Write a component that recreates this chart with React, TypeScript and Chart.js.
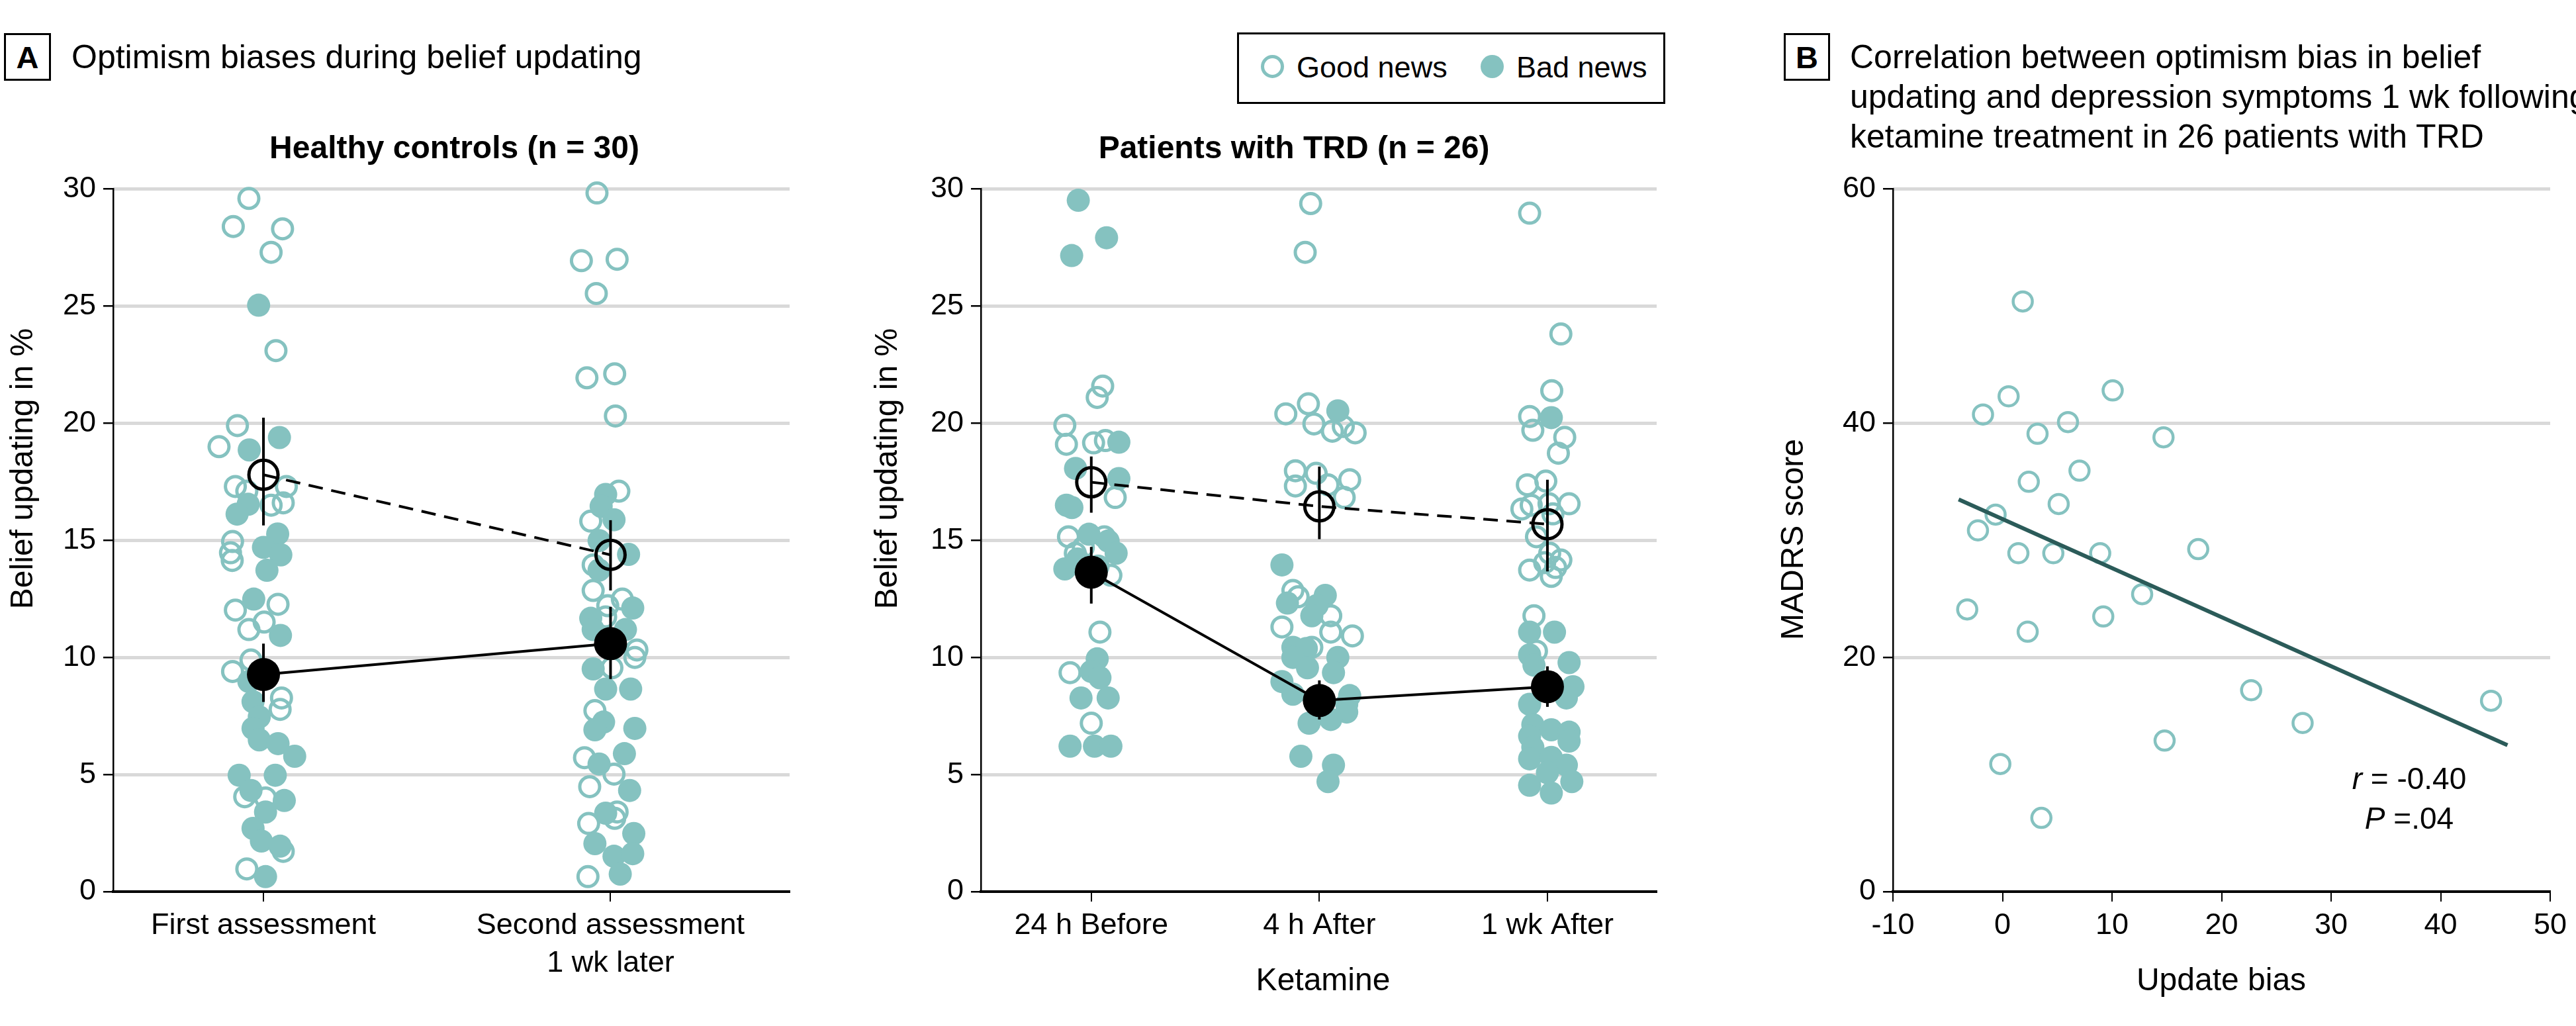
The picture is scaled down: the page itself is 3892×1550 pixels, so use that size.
import React, { useEffect, useRef } from "react";
import { Chart, registerables } from "chart.js";

Chart.register(...registerables);

const FONT = "'Liberation Sans', Arial, Helvetica, sans-serif";
const TEAL = "#85C2C0";
const GRID = "#d9d9d9";
const CLEAR = "rgba(0,0,0,0)";

// ---------- Panel A: Healthy controls ----------
const hcCategories = ["First assessment", ["Second assessment", "1 wk later"]];
const hcFirstGoodVals = [29.6, 28.4, 28.3, 27.3, 23.1, 19.9, 19.0, 17.3, 17.1, 17.3, 16.6, 16.5, 14.95, 14.47, 14.14, 12.02, 12.27, 11.51, 11.19, 9.89, 9.4, 8.27, 7.78, 4.05, 4.0, 1.72, 0.97];
const hcFirstGoodJit = [-0.042, -0.087, 0.055, 0.022, 0.036, -0.075, -0.128, -0.081, -0.048, 0.066, 0.057, 0.022, -0.089, -0.095, -0.09, -0.081, 0.042, 0.002, -0.042, -0.036, -0.089, 0.052, 0.048, -0.054, 0.006, 0.057, -0.048];
const hcFirstBadVals = [25.04, 19.39, 18.86, 16.54, 16.12, 15.27, 14.7, 14.38, 13.72, 12.49, 10.94, 8.97, 8.11, 7.46, 6.97, 6.48, 6.32, 5.78, 4.97, 4.97, 4.32, 3.89, 3.4, 2.7, 2.16, 1.94, 0.64];
const hcFirstBadJit = [-0.014, 0.046, -0.041, -0.044, -0.076, 0.041, 0.0, 0.05, 0.01, -0.028, 0.049, -0.042, -0.03, -0.012, -0.03, -0.012, 0.042, 0.09, -0.07, 0.034, -0.036, 0.06, 0.006, -0.03, -0.006, 0.048, 0.006];
const hcSecondGoodVals = [29.83, 26.94, 27.0, 25.54, 21.94, 22.11, 20.31, 17.1, 15.82, 13.95, 12.86, 12.49, 12.21, 11.73, 10.32, 10.0, 9.56, 7.73, 5.72, 5.02, 4.48, 3.4, 3.13, 2.91, 0.64];
const hcSecondGoodJit = [-0.039, -0.084, 0.019, -0.041, -0.068, 0.012, 0.014, 0.024, -0.057, -0.05, -0.05, 0.034, -0.008, -0.014, 0.076, 0.07, 0.004, -0.045, -0.075, 0.01, -0.06, 0.019, 0.012, -0.063, -0.065];
const hcSecondBadVals = [16.96, 16.45, 15.88, 14.99, 14.4, 13.73, 12.11, 11.67, 11.19, 11.19, 9.51, 8.65, 8.65, 7.24, 6.91, 6.97, 5.89, 5.45, 4.32, 3.35, 2.48, 2.05, 1.51, 1.62, 0.75];
const hcSecondBadJit = [-0.014, -0.027, 0.01, -0.033, 0.052, -0.033, 0.064, -0.057, 0.043, -0.05, -0.05, -0.014, 0.058, -0.02, -0.045, 0.07, 0.04, -0.033, 0.055, -0.014, 0.067, -0.045, 0.01, 0.064, 0.028];
const hcGoodMean = [17.8, 14.38];
const hcGoodLow = [15.64, 12.86];
const hcGoodHigh = [20.24, 15.86];
const hcBadMean = [9.27, 10.59];
const hcBadLow = [8.1, 9.08];
const hcBadHigh = [10.59, 12.16];

// ---------- Panel A: Patients with TRD ----------
const trdCategories = ["24 h Before", "4 h After", "1 wk After"];
const trdBeforeGoodVals = [21.59, 21.1, 19.91, 19.1, 19.16, 19.26, 16.83, 15.15, 15.15, 14.7, 14.45, 13.51, 11.08, 9.35, 7.19];
const trdBeforeGoodJit = [0.05, 0.026, -0.116, -0.109, 0.01, 0.062, 0.105, -0.1, 0.057, -0.035, -0.07, 0.086, 0.038, -0.093, 0.0];
const trdBeforeBadVals = [29.52, 27.92, 27.16, 19.19, 18.07, 17.64, 16.5, 16.4, 15.26, 14.97, 14.45, 14.2, 13.78, 13.9, 9.94, 9.4, 9.13, 8.27, 8.27, 6.21, 6.21, 6.21];
const trdBeforeBadJit = [-0.057, 0.067, -0.086, 0.121, -0.069, 0.121, -0.109, -0.085, -0.01, 0.074, 0.109, -0.06, -0.116, 0.03, 0.026, 0.0, 0.038, -0.045, 0.074, -0.093, 0.014, 0.086];
const trd4hGoodVals = [29.38, 27.3, 20.4, 20.83, 19.97, 19.66, 19.86, 19.59, 17.97, 17.32, 17.86, 17.37, 17.59, 16.83, 12.86, 12.59, 11.3, 11.78, 11.08, 10.92, 10.43];
const trd4hGoodJit = [-0.038, -0.062, -0.147, -0.048, -0.024, 0.057, 0.105, 0.157, -0.105, -0.105, -0.014, 0.038, 0.133, 0.109, -0.116, -0.093, -0.164, 0.05, 0.05, 0.145, -0.033];
const trd4hBadVals = [20.53, 13.95, 12.32, 12.65, 12.22, 11.78, 10.43, 10.38, 10.0, 10.0, 9.56, 9.35, 8.97, 8.43, 8.37, 8.0, 7.67, 7.35, 7.19, 5.78, 5.4, 4.7];
const trd4hBadJit = [0.081, -0.164, -0.14, 0.026, -0.01, -0.033, -0.116, -0.057, 0.081, -0.116, -0.052, 0.062, -0.164, -0.116, 0.133, 0.12, 0.12, 0.05, -0.045, -0.081, 0.062, 0.038];
const trd1wkGoodVals = [28.97, 23.81, 21.39, 20.29, 19.7, 19.4, 18.72, 17.37, 17.53, 16.34, 16.5, 16.56, 16.56, 16.13, 15.15, 14.45, 13.73, 13.84, 14.05, 14.16, 13.46, 11.78, 10.27];
const trd1wkGoodJit = [-0.078, 0.059, 0.019, -0.078, -0.064, 0.076, 0.048, -0.088, -0.007, -0.112, -0.071, 0.007, 0.095, 0.024, -0.048, 0.01, -0.078, 0.036, -0.012, 0.059, 0.017, -0.059, -0.048];
const trd1wkBadVals = [20.24, 11.08, 11.08, 10.11, 9.78, 9.67, 8.75, 8.27, 8.0, 7.13, 6.91, 6.81, 6.64, 6.43, 6.16, 5.67, 5.73, 5.4, 5.08, 4.54, 4.21, 4.7];
const trd1wkBadJit = [0.017, -0.078, 0.031, -0.078, 0.095, -0.059, 0.112, 0.083, -0.078, -0.064, 0.017, 0.095, -0.078, 0.095, -0.064, -0.078, 0.017, 0.083, 0.0, -0.078, 0.017, 0.107];
const trdGoodMean = [17.48, 16.45, 15.69];
const trdGoodLow = [16.18, 15.05, 13.67];
const trdGoodHigh = [18.58, 18.15, 17.59];
const trdBadMean = [13.64, 8.16, 8.75];
const trdBadLow = [12.3, 7.35, 7.89];
const trdBadHigh = [14.72, 9.02, 9.62];

// ---------- Panel B ----------
const updateBias = [1.85, 0.56, 10.06, -1.78, 5.98, 3.2, 14.7, 7.03, 2.4, 5.13, -0.63, -2.24, 1.45, 4.64, 8.92, 17.87, 12.75, -3.22, 9.2, 2.3, 22.7, 44.6, 27.4, 14.8, -0.2, 3.55];
const madrsScore = [50.4, 42.3, 42.8, 40.75, 40.1, 39.1, 38.8, 35.95, 35.0, 33.1, 32.2, 30.85, 28.9, 28.9, 28.9, 29.25, 25.4, 24.1, 23.5, 22.2, 17.2, 16.3, 14.4, 12.9, 10.9, 6.3];
const fitRange = [-4, 46.1];
const fitIntercept = 31.82;
const fitSlope = -0.419;

type Pt = { x: number; y: number };
const jitter = (c: number, vals: number[], jit: number[]): Pt[] =>
  vals.map((v, i) => ({ x: c + jit[i], y: v }));

const goodSet = (data: Pt[]) => ({
  type: "scatter", data, showLine: false, pointRadius: 15, pointBorderWidth: 5,
  pointBorderColor: TEAL, pointBackgroundColor: CLEAR, order: 3, clip: false,
});
const badSet = (data: Pt[]) => ({
  type: "scatter", data, showLine: false, pointRadius: 17.5, pointBorderWidth: 0,
  pointBorderColor: TEAL, pointBackgroundColor: TEAL, order: 2, clip: false,
});
const lineSet = (data: Pt[], dash: number[], color = "#000", width = 4, order = 1) => ({
  type: "line", data, showLine: true, borderColor: color, borderWidth: width, borderDash: dash,
  pointRadius: 0, fill: false, tension: 0, order, clip: false,
});
const meanOpenSet = (data: Pt[]) => ({
  type: "scatter", data, showLine: false, pointRadius: 22, pointBorderWidth: 5,
  pointBorderColor: "#000", pointBackgroundColor: CLEAR, order: 0, clip: false,
});
const meanFilledSet = (data: Pt[]) => ({
  type: "scatter", data, showLine: false, pointRadius: 25, pointBorderWidth: 0,
  pointBorderColor: "#000", pointBackgroundColor: "#000", order: 0, clip: false,
});

function stripDatasets(
  good: [number[], number[]][], bad: [number[], number[]][],
  gm: number[], gl: number[], gh: number[], bm: number[], bl: number[], bh: number[]
) {
  const ds: any[] = [];
  const centers = gm.map((_, i) => i + 1);
  ds.push(meanOpenSet(centers.map((c, i) => ({ x: c, y: gm[i] }))));
  ds.push(meanFilledSet(centers.map((c, i) => ({ x: c, y: bm[i] }))));
  centers.forEach((c, i) => {
    ds.push(lineSet([{ x: c, y: gl[i] }, { x: c, y: gh[i] }], []));
    ds.push(lineSet([{ x: c, y: bl[i] }, { x: c, y: bh[i] }], []));
  });
  ds.push(lineSet(centers.map((c, i) => ({ x: c, y: gm[i] })), [22, 13]));
  ds.push(lineSet(centers.map((c, i) => ({ x: c, y: bm[i] })), []));
  bad.forEach(([v, j], i) => ds.push(badSet(jitter(centers[i], v, j))));
  good.forEach(([v, j], i) => ds.push(goodSet(jitter(centers[i], v, j))));
  return ds;
}

const tickFont = { family: FONT, size: 45, lineHeight: 1.27 };

function makeScales(o: {
  xMin: number; xMax: number; xTicks?: number[]; xLabels?: any[]; xStep?: number;
  yMax: number; yStep: number; yWidth: number;
}) {
  const x: any = {
    type: "linear", min: o.xMin, max: o.xMax,
    afterFit: (s: any) => { s.height = 203; },
    grid: { drawOnChartArea: false, drawTicks: true, tickLength: 15, color: "#000", lineWidth: 2 },
    border: { display: true, color: "#000", width: 4 },
    ticks: {
      font: tickFont, color: "#000", padding: 8, maxRotation: 0, autoSkip: false,
      stepSize: o.xStep,
    },
  };
  if (o.xTicks) {
    const ticksArr = o.xTicks;
    const labels = o.xLabels || [];
    x.afterBuildTicks = (s: any) => { s.ticks = ticksArr.map((v) => ({ value: v })); };
    x.ticks.callback = (v: number) => labels[Math.round(v) - 1];
  }
  return {
    x,
    y: {
      type: "linear", min: 0, max: o.yMax, position: "left",
      afterFit: (s: any) => { s.width = o.yWidth; },
      grid: { drawOnChartArea: false, drawTicks: true, tickLength: 15, color: "#000", lineWidth: 2.5 },
      border: { display: true, color: "#000", width: 2.5 },
      ticks: { stepSize: o.yStep, font: tickFont, color: "#000", padding: 11 },
    },
    yg: {
      type: "linear", min: 0, max: o.yMax, position: "right",
      afterFit: (s: any) => { s.width = 0; },
      grid: {
        drawOnChartArea: true, drawTicks: false, lineWidth: 5,
        color: (ctx: any) => (ctx.tick && ctx.tick.value === 0 ? CLEAR : GRID),
      },
      border: { display: false },
      ticks: { display: false, stepSize: o.yStep },
    },
  };
}

function baseOptions(scales: any, padRight: number) {
  return {
    responsive: false,
    animation: false,
    events: [],
    layout: { padding: { top: 85.6, right: padRight, bottom: 0, left: 0 } },
    plugins: { legend: { display: false }, tooltip: { enabled: false }, title: { display: false } },
    scales,
  };
}

function hcConfig(): any {
  return {
    type: "scatter",
    data: {
      datasets: stripDatasets(
        [[hcFirstGoodVals, hcFirstGoodJit], [hcSecondGoodVals, hcSecondGoodJit]],
        [[hcFirstBadVals, hcFirstBadJit], [hcSecondBadVals, hcSecondBadJit]],
        hcGoodMean, hcGoodLow, hcGoodHigh, hcBadMean, hcBadLow, hcBadHigh
      ),
    },
    options: baseOptions(
      makeScales({ xMin: 0.567, xMax: 2.516, xTicks: [1, 2], xLabels: hcCategories, yMax: 30, yStep: 5, yWidth: 171 }),
      18
    ),
  };
}

function trdConfig(): any {
  return {
    type: "scatter",
    data: {
      datasets: stripDatasets(
        [[trdBeforeGoodVals, trdBeforeGoodJit], [trd4hGoodVals, trd4hGoodJit], [trd1wkGoodVals, trd1wkGoodJit]],
        [[trdBeforeBadVals, trdBeforeBadJit], [trd4hBadVals, trd4hBadJit], [trd1wkBadVals, trd1wkBadJit]],
        trdGoodMean, trdGoodLow, trdGoodHigh, trdBadMean, trdBadLow, trdBadHigh
      ),
    },
    options: baseOptions(
      makeScales({ xMin: 0.516, xMax: 3.479, xTicks: [1, 2, 3], xLabels: trdCategories, yMax: 30, yStep: 5, yWidth: 252 }),
      14
    ),
  };
}

function corrConfig(): any {
  const pts = updateBias.map((x, i) => ({ x, y: madrsScore[i] }));
  const fit = fitRange.map((x) => ({ x, y: fitIntercept + fitSlope * x }));
  return {
    type: "scatter",
    data: {
      datasets: [
        lineSet(fit, [], "#2B5B59", 6, 0),
        { ...goodSet(pts), pointRadius: 14.5, pointBorderWidth: 4.5, order: 1 },
      ],
    },
    options: baseOptions(
      makeScales({ xMin: -10, xMax: 50, xStep: 10, yMax: 60, yStep: 20, yWidth: 320 }),
      39
    ),
  };
}

function ChartCanvas(props: { make: () => any; left: number; top: number; width: number; height: number }) {
  const ref = useRef<HTMLCanvasElement>(null);
  useEffect(() => {
    const chart = new Chart(ref.current as HTMLCanvasElement, props.make());
    return () => chart.destroy();
  }, []);
  return (
    <canvas
      ref={ref}
      width={props.width}
      height={props.height}
      style={{ position: "absolute", left: props.left, top: props.top, width: props.width, height: props.height }}
    />
  );
}

const text = (extra: React.CSSProperties): React.CSSProperties => ({
  position: "absolute", fontFamily: FONT, color: "#000", whiteSpace: "nowrap", lineHeight: "1", ...extra,
});

function YLabel(props: { label: string; cx: number; cy: number }) {
  return (
    <div
      style={text({
        left: props.cx - 400, top: props.cy - 30, width: 800, height: 60, lineHeight: "60px",
        fontSize: 48, textAlign: "center", transform: "rotate(-90deg)",
      })}
    >
      {props.label}
    </div>
  );
}

function LetterBox(props: { letter: string; left: number; width: number }) {
  return (
    <div
      style={text({
        left: props.left, top: 50, width: props.width, height: 72, boxSizing: "border-box",
        border: "3px solid #000", display: "flex", alignItems: "center", justifyContent: "center",
        fontWeight: "bold", fontSize: 47,
      })}
    >
      {props.letter}
    </div>
  );
}

export default function App() {
  return (
    <div style={{ position: "absolute", left: 0, top: 0, width: 3892, height: 1550, overflow: "hidden", background: "#fff" }}>
      <ChartCanvas make={hcConfig} left={0} top={200} width={1220} height={1350} />
      <ChartCanvas make={trdConfig} left={1230} top={200} width={1300} height={1350} />
      <ChartCanvas make={corrConfig} left={2540} top={200} width={1352} height={1350} />

      <LetterBox letter="A" left={6} width={71} />
      <div style={text({ left: 108, top: 60.5, fontSize: 50 })}>Optimism biases during belief updating</div>

      <div style={text({ left: 171, top: 198.7, width: 1031, textAlign: "center", fontSize: 48, fontWeight: "bold" })}>
        Healthy controls (n = 30)
      </div>
      <div style={text({ left: 1355, top: 198.7, width: 1200, textAlign: "center", fontSize: 48, fontWeight: "bold" })}>
        Patients with TRD (n = 26)
      </div>

      <div style={{ position: "absolute", left: 1869, top: 49, width: 647, height: 108, boxSizing: "border-box", border: "3px solid #000" }} />
      <div style={{ position: "absolute", left: 1904.5, top: 82.5, width: 35, height: 35, boxSizing: "border-box", border: `5px solid ${TEAL}`, borderRadius: "50%" }} />
      <div style={text({ left: 1959, top: 79, fontSize: 45 })}>Good news</div>
      <div style={{ position: "absolute", left: 2236.5, top: 82.5, width: 35, height: 35, background: TEAL, borderRadius: "50%" }} />
      <div style={text({ left: 2291, top: 79, fontSize: 45 })}>Bad news</div>

      <LetterBox letter="B" left={2695} width={70} />
      <div style={text({ left: 2795, top: 55.5, fontSize: 50, lineHeight: "60px" })}>
        Correlation between optimism bias in belief
        <br />
        updating and depression symptoms 1 wk following
        <br />
        ketamine treatment in 26 patients with TRD
      </div>

      <YLabel label="Belief updating in %" cx={33.4} cy={708} />
      <YLabel label="Belief updating in %" cx={1339.4} cy={708} />
      <YLabel label="MADRS score" cx={2708} cy={815} />

      <div style={text({ left: 1599, top: 1456, width: 800, textAlign: "center", fontSize: 48 })}>Ketamine</div>
      <div style={text({ left: 2956, top: 1456, width: 800, textAlign: "center", fontSize: 48 })}>Update bias</div>

      <div style={text({ left: 3440, top: 1146, width: 400, textAlign: "center", fontSize: 46, lineHeight: "60px" })}>
        <span style={{ fontStyle: "italic" }}>r</span> = -0.40
        <br />
        <span style={{ fontStyle: "italic" }}>P</span> =.04
      </div>
    </div>
  );
}
